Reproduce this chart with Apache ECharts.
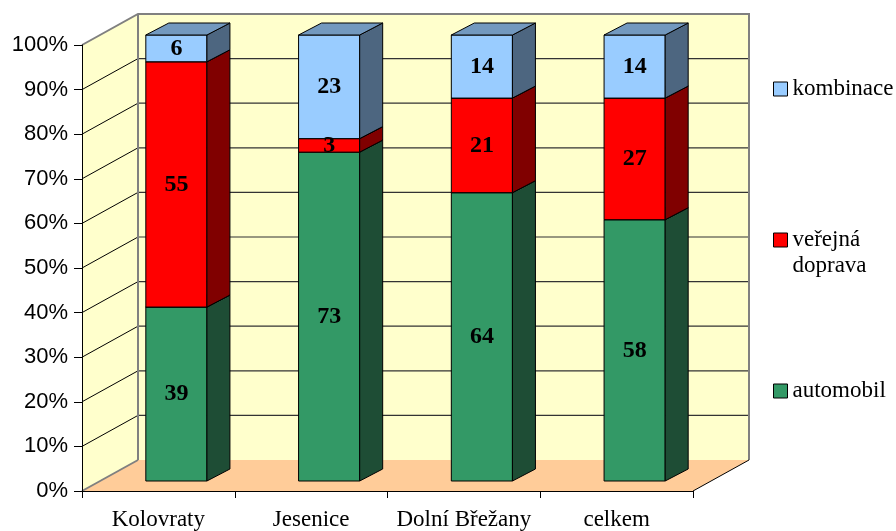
<!DOCTYPE html>
<html>
<head>
<meta charset="utf-8">
<script src="https://cdn.jsdelivr.net/npm/echarts@6/dist/echarts.min.js"></script>
<style>
html,body{margin:0;padding:0;background:#fff;}
#chart{width:896px;height:531px;}
</style>
</head>
<body>
<div id="chart"></div>
<script>
// ---- data ----
const categories = ['Kolovraty', 'Jesenice', 'Dolní Břežany', 'celkem'];
const automobil = [39, 73, 64, 58];
const verejnaDoprava = [55, 3, 21, 27];
const kombinace = [6, 23, 14, 14];
const seriesNames = ['automobil', 'veřejná doprava', 'kombinace'];

// ---- styles ----
const SERIF = '"Liberation Serif", "Times New Roman", serif';
const SANS = '"Liberation Sans", Arial, sans-serif';
const DEPTH = [56, -31];      // full floor depth offset (px)
const BAR_OFF = [18, -10];    // bar front face offset into depth
const BAR_DEPTH = [23, -12];  // bar depth (px)
const colors = [
  { front: '#339966', side: '#1e4d35', top: '#267350' },
  { front: '#ff0000', side: '#800000', top: '#bf0000' },
  { front: '#99ccff', side: '#4d6680', top: '#7399bf' }
];

const seriesValues = [automobil, verejnaDoprava, kombinace];
const totals = categories.map((c, i) => seriesValues.reduce((s, arr) => s + arr[i], 0));

function stackedData(sIdx) {
  return categories.map((c, i) => {
    let lo = 0;
    for (let k = 0; k < sIdx; k++) lo += seriesValues[k][i];
    const hi = lo + seriesValues[sIdx][i];
    return [i, lo / totals[i] * 100, hi / totals[i] * 100, seriesValues[sIdx][i]];
  });
}

function renderWalls(params, api) {
  const cs = params.coordSys;
  const L = cs.x, R = cs.x + cs.width, T = cs.y, B = cs.y + cs.height;
  const DX = DEPTH[0], DY = DEPTH[1];
  const ch = [];
  ch.push({ type: 'rect', shape: { x: L + DX, y: T + DY, width: cs.width, height: cs.height },
    style: { fill: '#ffffcc' }, silent: true });
  ch.push({ type: 'polygon', shape: { points: [[L, T], [L + DX, T + DY], [L + DX, B + DY], [L, B]] },
    style: { fill: '#ffffcc' }, silent: true });
  ch.push({ type: 'polygon', shape: { points: [[L, B], [R, B], [R + DX, B + DY], [L + DX, B + DY]] },
    style: { fill: '#ffcc99' }, silent: true });
  for (let v = 10; v < 100; v += 10) {
    const y = api.coord([0, v])[1];
    ch.push({ type: 'line', shape: { x1: L + DX, y1: y + DY, x2: R + DX, y2: y + DY },
      style: { stroke: '#333', lineWidth: 1.2 }, silent: true });
    ch.push({ type: 'line', shape: { x1: L, y1: y, x2: L + DX, y2: y + DY },
      style: { stroke: '#000', lineWidth: 1 }, silent: true });
  }
  ch.push({ type: 'polyline', shape: { points: [[L, T], [L + DX, T + DY], [R + DX, T + DY], [R + DX, B + DY]] },
    style: { stroke: '#808080', lineWidth: 2, fill: null }, silent: true });
  ch.push({ type: 'line', shape: { x1: L + DX, y1: T + DY, x2: L + DX, y2: B + DY },
    style: { stroke: '#808080', lineWidth: 2 }, silent: true });
  ch.push({ type: 'line', shape: { x1: L, y1: B, x2: L + DX, y2: B + DY },
    style: { stroke: '#808080', lineWidth: 2 }, silent: true });
  ch.push({ type: 'line', shape: { x1: R, y1: B, x2: R + DX, y2: B + DY },
    style: { stroke: '#000', lineWidth: 1 }, silent: true });
  return { type: 'group', children: ch };
}

function makeBarRenderer(sIdx) {
  const col = colors[sIdx];
  return function (params, api) {
    const cat = api.value(0), lo = api.value(1), hi = api.value(2), raw = api.value(3);
    const pLo = api.coord([cat, lo]);
    const pHi = api.coord([cat, hi]);
    const w = api.size([1, 0])[0] * 0.4;
    const x0 = pLo[0] - w / 2 + BAR_OFF[0];
    const x1 = x0 + w;
    const yb = pLo[1] + BAR_OFF[1];
    const yt = pHi[1] + BAR_OFF[1];
    const DX = BAR_DEPTH[0], DY = BAR_DEPTH[1];
    const stroke = { stroke: '#000', lineWidth: 1 };
    return {
      type: 'group',
      children: [
        { type: 'rect', z2: sIdx, shape: { x: x0, y: yt, width: w, height: yb - yt },
          style: Object.assign({ fill: col.front }, stroke) },
        { type: 'polygon', z2: sIdx, shape: { points: [[x1, yb], [x1 + DX, yb + DY], [x1 + DX, yt + DY], [x1, yt]] },
          style: Object.assign({ fill: col.side }, stroke) },
        { type: 'polygon', z2: sIdx, shape: { points: [[x0, yt], [x1, yt], [x1 + DX, yt + DY], [x0 + DX, yt + DY]] },
          style: Object.assign({ fill: col.top }, stroke) },
        { type: 'text', z2: 100, style: { text: String(raw), x: (x0 + x1) / 2, y: (yb + yt) / 2,
          align: 'center', verticalAlign: 'middle', font: 'bold 24px ' + SERIF, fill: '#000' } }
      ]
    };
  };
}

const legendCommon = {
  orient: 'vertical', left: 773, padding: 0, itemGap: 0, itemWidth: 14, itemHeight: 14,
  icon: 'rect', selectedMode: false,
  itemStyle: { borderColor: '#000', borderWidth: 1 },
  textStyle: { fontFamily: SERIF, fontSize: 23, color: '#000', lineHeight: 26 }
};

const chart = echarts.init(document.getElementById('chart'), null, { renderer: 'canvas' });
chart.setOption({
  animation: false,
  backgroundColor: '#ffffff',
  grid: { left: 82, right: 203, top: 45, bottom: 39, containLabel: false },
  legend: [
    Object.assign({}, legendCommon, { data: ['kombinace'], top: 76 }),
    Object.assign({}, legendCommon, { data: ['veřejná doprava'], top: 201,
      formatter: () => '\nveřejná\ndoprava' }),
    Object.assign({}, legendCommon, { data: ['automobil'], top: 378 })
  ],
  xAxis: {
    type: 'category', data: categories, z: 5,
    axisLine: { show: true, lineStyle: { color: '#000', width: 1 } },
    axisTick: { show: true, interval: 0, length: 7, lineStyle: { color: '#000' } },
    axisLabel: { interval: 0, fontFamily: SERIF, fontSize: 23, color: '#000', margin: 17 },
    splitLine: { show: false }
  },
  yAxis: {
    type: 'value', min: 0, max: 100, interval: 10, z: 5,
    axisLine: { show: true, lineStyle: { color: '#000', width: 1 } },
    axisTick: { show: true, length: 8, lineStyle: { color: '#000' } },
    axisLabel: { formatter: '{value}%', fontFamily: SANS, fontSize: 22, color: '#000', margin: 14 },
    splitLine: { show: false }
  },
  series: [
    { type: 'custom', name: '_walls', z: 1, clip: false, silent: true,
      renderItem: renderWalls, data: [[0, 0]], encode: { x: 0, y: 1 } }
  ].concat(seriesNames.map((name, sIdx) => ({
    type: 'custom', name: name, z: 3, clip: false,
    itemStyle: { color: colors[sIdx].front, borderColor: '#000', borderWidth: 1 },
    renderItem: makeBarRenderer(sIdx),
    data: stackedData(sIdx),
    encode: { x: 0, y: [1, 2] }
  })))
});
</script>
</body>
</html>
